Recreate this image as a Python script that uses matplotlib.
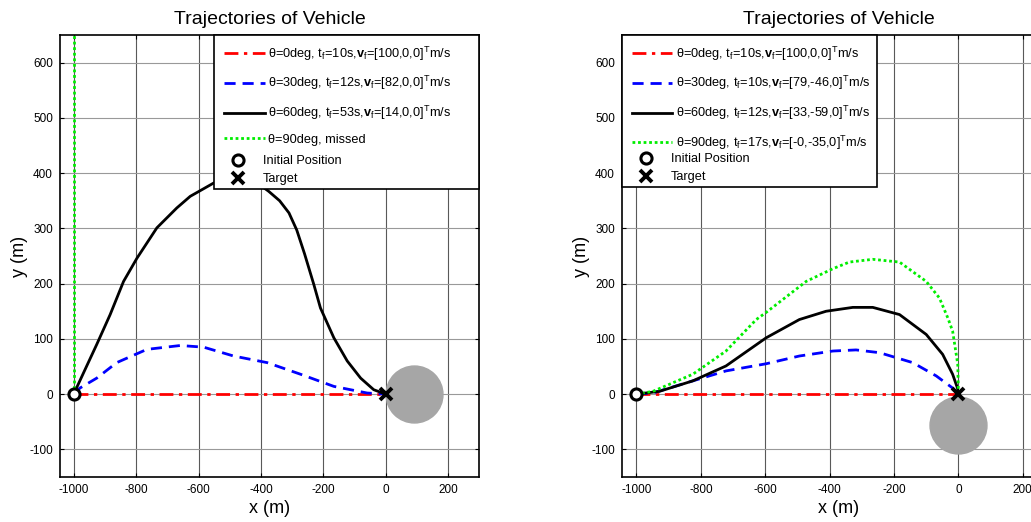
import numpy as np
import matplotlib.pyplot as plt
from matplotlib.patches import Rectangle

plt.rcParams['font.family'] = ['Liberation Sans', 'DejaVu Sans']
plt.rcParams['mathtext.fontset'] = 'custom'
plt.rcParams['mathtext.rm'] = 'Liberation Sans'
plt.rcParams['mathtext.it'] = 'Liberation Sans:italic'
plt.rcParams['mathtext.bf'] = 'Liberation Sans:bold'
plt.rcParams['axes.unicode_minus'] = False

# left panel
l_red_x = [-1000, 0]
l_red_y = [0, 0]
l_blue_x = [-1000, -981, -927, -863, -766, -659, -584, -488, -380, -273, -166, -59, 0]
l_blue_y = [0, 11, 29, 57, 81, 88, 85, 69, 57, 36, 14, 2, 0]
l_black_x = [-1000, -997, -960, -927, -884, -841, -798, -734, -670, -627, -552, -500,
             -470, -430, -375, -340, -310, -285, -260, -230, -209, -166, -123, -80, -38, 0]
l_black_y = [0, 5, 50, 90, 144, 204, 246, 301, 337, 358, 382, 393,
             396, 390, 367, 350, 328, 297, 254, 198, 156, 102, 60, 29, 8, 0]
l_green_x = [-1000, -1000]
l_green_y = [0, 700]
l_obst = (92, 0)
l_labels = [r'θ=0deg, t$_\mathrm{f}$=10s,$\mathbf{v}_\mathrm{f}$=[100,0,0]$^\mathrm{T}$m/s',
            r'θ=30deg, t$_\mathrm{f}$=12s,$\mathbf{v}_\mathrm{f}$=[82,0,0]$^\mathrm{T}$m/s',
            r'θ=60deg, t$_\mathrm{f}$=53s,$\mathbf{v}_\mathrm{f}$=[14,0,0]$^\mathrm{T}$m/s',
            r'θ=90deg, missed']

# right panel
r_red_x = [-1000, 0]
r_red_y = [0, 0]
r_blue_x = [-1000, -949, -825, -722, -597, -494, -390, -318, -245, -142, -69, -18, 0]
r_blue_y = [0, 2, 24, 42, 55, 69, 78, 80, 75, 57, 33, 11, 0]
r_black_x = [-1000, -929, -825, -722, -597, -494, -411, -328, -266, -183, -100, -49, -18, -3, 0]
r_black_y = [0, 5, 24, 51, 102, 135, 150, 157, 157, 144, 108, 72, 36, 11, 0]
r_green_x = [-1000, -949, -825, -722, -628, -597, -473, -390, -339, -266, -183, -100,
             -59, -33, -18, -2, 0]
r_green_y = [0, 5, 36, 78, 135, 148, 204, 227, 239, 244, 239, 204,
             174, 138, 114, 54, 0]
r_obst = (0, -55)
r_labels = [r'θ=0deg, t$_\mathrm{f}$=10s,$\mathbf{v}_\mathrm{f}$=[100,0,0]$^\mathrm{T}$m/s',
            r'θ=30deg, t$_\mathrm{f}$=10s,$\mathbf{v}_\mathrm{f}$=[79,-46,0]$^\mathrm{T}$m/s',
            r'θ=60deg, t$_\mathrm{f}$=12s,$\mathbf{v}_\mathrm{f}$=[33,-59,0]$^\mathrm{T}$m/s',
            r'θ=90deg, t$_\mathrm{f}$=17s,$\mathbf{v}_\mathrm{f}$=[-0,-35,0]$^\mathrm{T}$m/s']

start = (-1000, 0)
target = (0, 0)
marker_labels = ['Initial Position', 'Target']


def draw_panel(ax, red, blue, black, green, obst, labels, box):
    ax.plot(obst[0], obst[1], 'o', color='#a6a6a6', markersize=41, zorder=1)
    h1, = ax.plot(red[0], red[1], color='red', ls=(0, (5, 2, 1.2, 2)), lw=2, zorder=3)
    h2, = ax.plot(blue[0], blue[1], color='blue', ls=(0, (4, 2.5)), lw=2, zorder=3)
    h3, = ax.plot(black[0], black[1], color='black', ls='-', lw=2, zorder=3)
    h4, = ax.plot(green[0], green[1], color='#00ee00', ls=(0, (1, 1)), lw=2, zorder=3)
    h5, = ax.plot(start[0], start[1], 'o', mfc='white', mec='black', ms=8, mew=2.2, ls='none', zorder=5)
    h6, = ax.plot(target[0], target[1], 'x', color='black', ms=8, mew=2.8, ls='none', zorder=5)

    ax.set_xlim(-1045, 300)
    ax.set_ylim(-150, 650)
    ax.set_xticks(np.arange(-1000, 201, 200))
    ax.set_yticks(np.arange(-100, 601, 100))
    ax.tick_params(direction='in', top=True, right=True, labelsize=8.5, length=3,
                   width=0.8, colors='black', pad=5)
    ax.grid(axis='x', color='0.35', lw=0.8)
    ax.grid(axis='y', color='0.6', lw=0.8)
    ax.set_axisbelow(True)
    for s in ax.spines.values():
        s.set_linewidth(1.2)
    ax.set_title('Trajectories of Vehicle', fontsize=14, pad=8)
    ax.set_xlabel('x (m)', fontsize=13, labelpad=3)
    ax.set_ylabel('y (m)', fontsize=13, labelpad=1)

    # legend: box + two frameless legends (line rows are taller than marker rows)
    x0, x1, y0 = box
    ax.add_patch(Rectangle((x0, y0), x1 - x0, 1 - y0, transform=ax.transAxes,
                           facecolor='white', edgecolor='black', lw=1.2,
                           zorder=8, clip_on=False))
    leg_a = ax.legend([h1, h2, h3, h4], labels, loc='upper left',
                      bbox_to_anchor=(x0, 1), borderaxespad=0, frameon=False,
                      fontsize=9.2, handlelength=3.2, handletextpad=0.3,
                      labelspacing=0.9, borderpad=0.75)
    leg_a.set_zorder(9)
    ax.add_artist(leg_a)
    leg_b = ax.legend([h5, h6], marker_labels, loc='lower left',
                      bbox_to_anchor=(x0, y0), borderaxespad=0, frameon=False,
                      fontsize=9.2, handlelength=3.2, handletextpad=0.3,
                      labelspacing=0.45, borderpad=0.3)
    leg_b.set_zorder(9)


fig = plt.figure(figsize=(10.31, 5.22), dpi=100)
ax1 = fig.add_axes([60 / 1031, 1 - 477 / 522, 419 / 1031, 442 / 522])
ax2 = fig.add_axes([622 / 1031, 1 - 477 / 522, 433 / 1031, 442 / 522])

draw_panel(ax1, (l_red_x, l_red_y), (l_blue_x, l_blue_y), (l_black_x, l_black_y),
           (l_green_x, l_green_y), l_obst, l_labels, (0.368, 1.0, 0.652))
draw_panel(ax2, (r_red_x, r_red_y), (r_blue_x, r_blue_y), (r_black_x, r_black_y),
           (r_green_x, r_green_y), r_obst, r_labels, (0.0, 0.589, 0.656))

fig.savefig('out.png', dpi=100)
